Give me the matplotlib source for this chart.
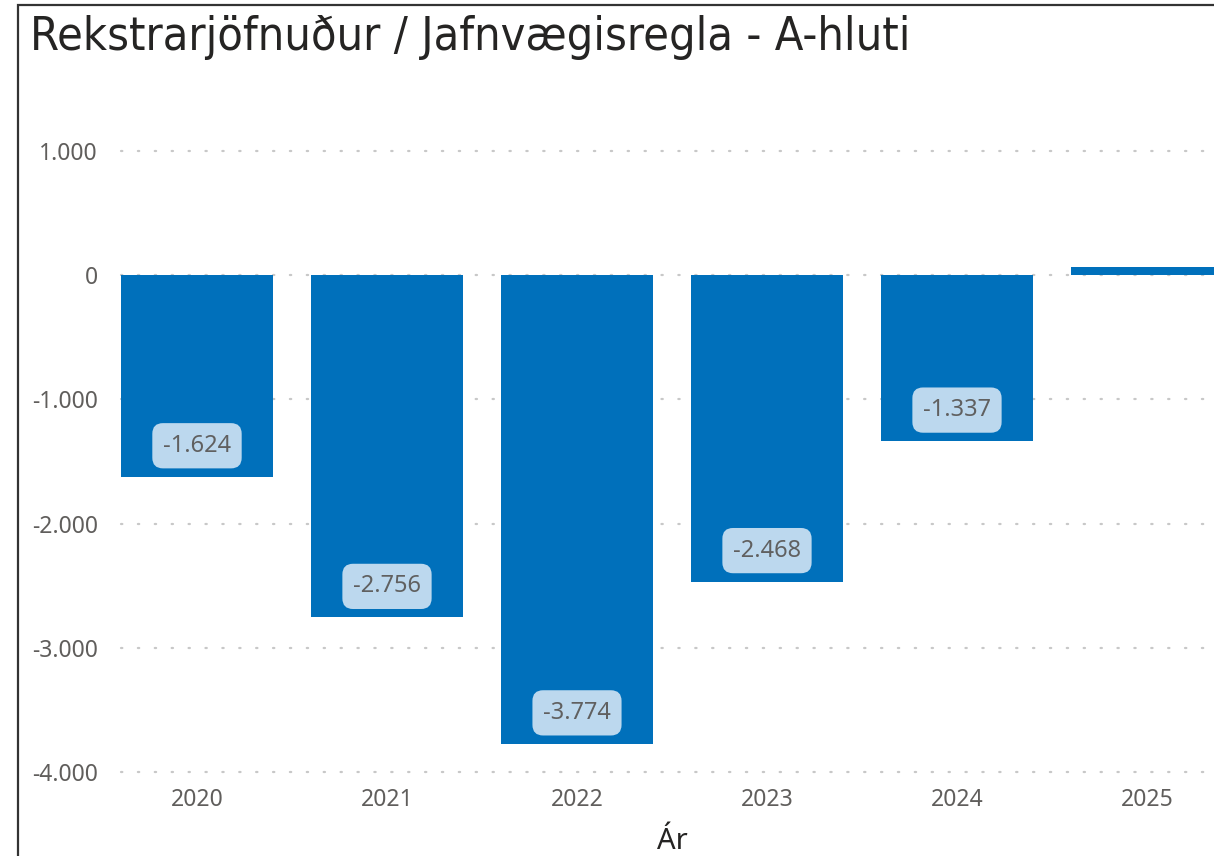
import numpy as np
import matplotlib.pyplot as plt
from matplotlib.patches import Rectangle
from matplotlib.ticker import FuncFormatter

years = ["2020", "2021", "2022", "2023", "2024", "2025"]
values = [-1624, -2756, -3774, -2468, -1337, 65]
labels = ["-1.624", "-2.756", "-3.774", "-2.468", "-1.337", ""]
yticks = [1000, 0, -1000, -2000, -3000, -4000]

W, H = 1214, 856
fig = plt.figure(figsize=(W / 100, H / 100), dpi=100)

# axes: left edge at 102 px, one category = 190 px, runs past the right edge
ax_l, ax_top, ax_bot = 102, 100, 775
ax = fig.add_axes([ax_l / W, 1 - ax_bot / H, 190 * 6 / W, (ax_bot - ax_top) / H])
px_per_unit = 124.2 / 1000
ymin = -4000 - (ax_bot - 772) / px_per_unit
ymax = (275 - ax_top) / px_per_unit
ax.set_ylim(ymin, ymax)
ax.set_xlim(-0.5, 5.5)

x = np.arange(len(years))
ax.bar(x, values, width=0.8, color="#0070bb", zorder=2)

for yt in yticks:
    ax.plot([-0.4, 6], [yt, yt], color="#c8c8c8", lw=1.6,
            linestyle=(0, (0.6, 7)), dash_capstyle="round", zorder=1, clip_on=False)

for xi, v, lab in zip(x, values, labels):
    if not lab:
        continue
    ax.text(xi, v + 250, lab, ha="center", va="center", fontsize=17,
            family="Noto Sans", color="#606060", zorder=3,
            bbox=dict(boxstyle="round,pad=0.45,rounding_size=0.45",
                      fc="#bcd8ee", ec="none"))

ax.set_xticks(x)
ax.set_xticklabels(years, fontsize=16.5, family="Noto Sans", color="#605e5c")
ax.set_yticks(yticks)
ax.yaxis.set_major_formatter(FuncFormatter(lambda v, p: f"{v:,.0f}".replace(",", ".")))
for t in ax.get_yticklabels():
    t.set_fontsize(16.5)
    t.set_family("Noto Sans")
    t.set_color("#605e5c")
ax.tick_params(length=0)
ax.tick_params(axis="x", pad=9)
ax.tick_params(axis="y", pad=3)
for s in ax.spines.values():
    s.set_visible(False)

ax.set_xlabel("Ár", fontsize=21, family="Noto Sans", color="#252423", labelpad=11)

fig.text(30 / W, 1 - 38 / H, "Rekstrarjöfnuður / Jafnvægisregla - A-hluti",
         fontsize=33.6, family="DejaVu Sans", fontstretch="condensed",
         color="#252423", va="center", ha="left")

fig.add_artist(Rectangle((18 / W, -0.1), 1.1, 1 - 5 / H + 0.1, transform=fig.transFigure,
                         fill=False, ec="#333333", lw=1.6))

fig.savefig("out.png", dpi=100)
